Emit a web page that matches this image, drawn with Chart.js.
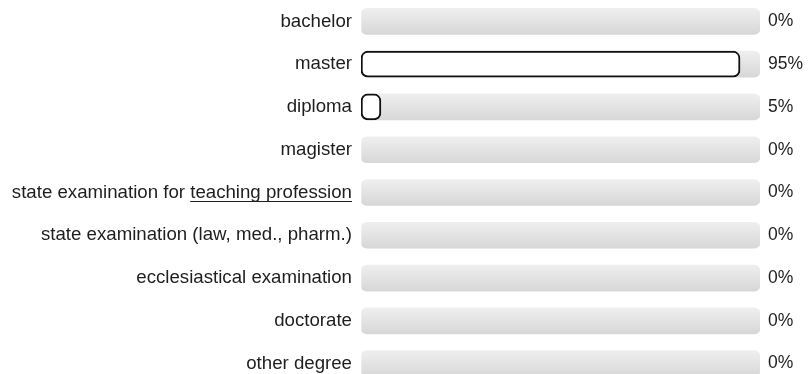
<!DOCTYPE html>
<html>
<head>
<meta charset="utf-8">
<script src="https://cdn.jsdelivr.net/npm/chart.js@4"></script>
<style>
html,body{margin:0;padding:0;background:#fff;overflow:hidden;}
#wrap{width:808px;height:385px;position:relative;}
</style>
</head>
<body>
<div id="wrap"><canvas id="c"></canvas></div>
<script>
const categories = [
  'bachelor',
  'master',
  'diploma',
  'magister',
  'state examination for teaching profession',
  'state examination (law, med., pharm.)',
  'ecclesiastical examination',
  'doctorate',
  'other degree'
];
const underlinedParts = ['', '', '', '', 'teaching profession', '', '', '', ''];
const values = [0, 95, 5, 0, 0, 0, 0, 0, 0];
const trackValues = [100, 100, 100, 100, 100, 100, 100, 100, 100];
const valueLabels = ['0%', '95%', '5%', '0%', '0%', '0%', '0%', '0%', '0%'];

const FONT = '18.67px "Liberation Sans", Arial, sans-serif';
const PCT_FONT = '17.5px "Liberation Sans", Arial, sans-serif';
const TEXT_COLOR = '#1e1e1e';
const BAR_H = 26;

function trackFill(ctx) {
  const chart = ctx.chart;
  const ys = chart.scales && chart.scales.y;
  if (!chart.chartArea || !ys) return '#e2e2e2';
  const y = ys.getPixelForValue(ctx.dataIndex);
  const g = chart.ctx.createLinearGradient(0, y - BAR_H / 2, 0, y + BAR_H / 2);
  g.addColorStop(0, '#efefef');
  g.addColorStop(1, '#d7d7d7');
  return g;
}

const labelPlugin = {
  id: 'sideLabels',
  afterDatasetsDraw(chart) {
    const ctx = chart.ctx;
    const ys = chart.scales.y;
    const xs = chart.scales.x;
    ctx.save();
    ctx.fillStyle = TEXT_COLOR;
    ctx.strokeStyle = TEXT_COLOR;
    ctx.textBaseline = 'middle';
    categories.forEach((cat, i) => {
      const y = ys.getPixelForValue(i);
      const right = xs.left - 9;
      ctx.font = FONT;
      ctx.textAlign = 'right';
      ctx.fillText(cat, right, y);
      const u = underlinedParts[i];
      if (u && cat.endsWith(u)) {
        const w = ctx.measureText(u).width;
        ctx.lineWidth = 1;
        ctx.beginPath();
        ctx.moveTo(right - w, Math.round(y + 8) + 0.5);
        ctx.lineTo(right, Math.round(y + 8) + 0.5);
        ctx.stroke();
      }
      ctx.font = PCT_FONT;
      ctx.textAlign = 'left';
      ctx.fillText(valueLabels[i], xs.right + 8, y);
    });
    ctx.restore();
  }
};

new Chart(document.getElementById('c'), {
  type: 'bar',
  data: {
    labels: categories,
    datasets: [
      {
        data: values,
        backgroundColor: '#ffffff',
        borderColor: '#111111',
        borderWidth: (ctx) => (values[ctx.dataIndex] > 0 ? 2 : 0),
        borderRadius: 7,
        borderSkipped: false,
        barThickness: BAR_H,
        grouped: false,
        order: 0
      },
      {
        data: trackValues,
        backgroundColor: trackFill,
        borderWidth: 0,
        borderRadius: 6,
        borderSkipped: false,
        barThickness: BAR_H,
        grouped: false,
        order: 1
      }
    ]
  },
  options: {
    indexAxis: 'y',
    responsive: true,
    maintainAspectRatio: false,
    animation: false,
    layout: { padding: { left: 361, right: 48, top: 0, bottom: 0 } },
    scales: {
      x: { display: false, min: 0, max: 100 },
      y: { display: false }
    },
    plugins: {
      legend: { display: false },
      tooltip: { enabled: false }
    }
  },
  plugins: [labelPlugin]
});
</script>
</body>
</html>
